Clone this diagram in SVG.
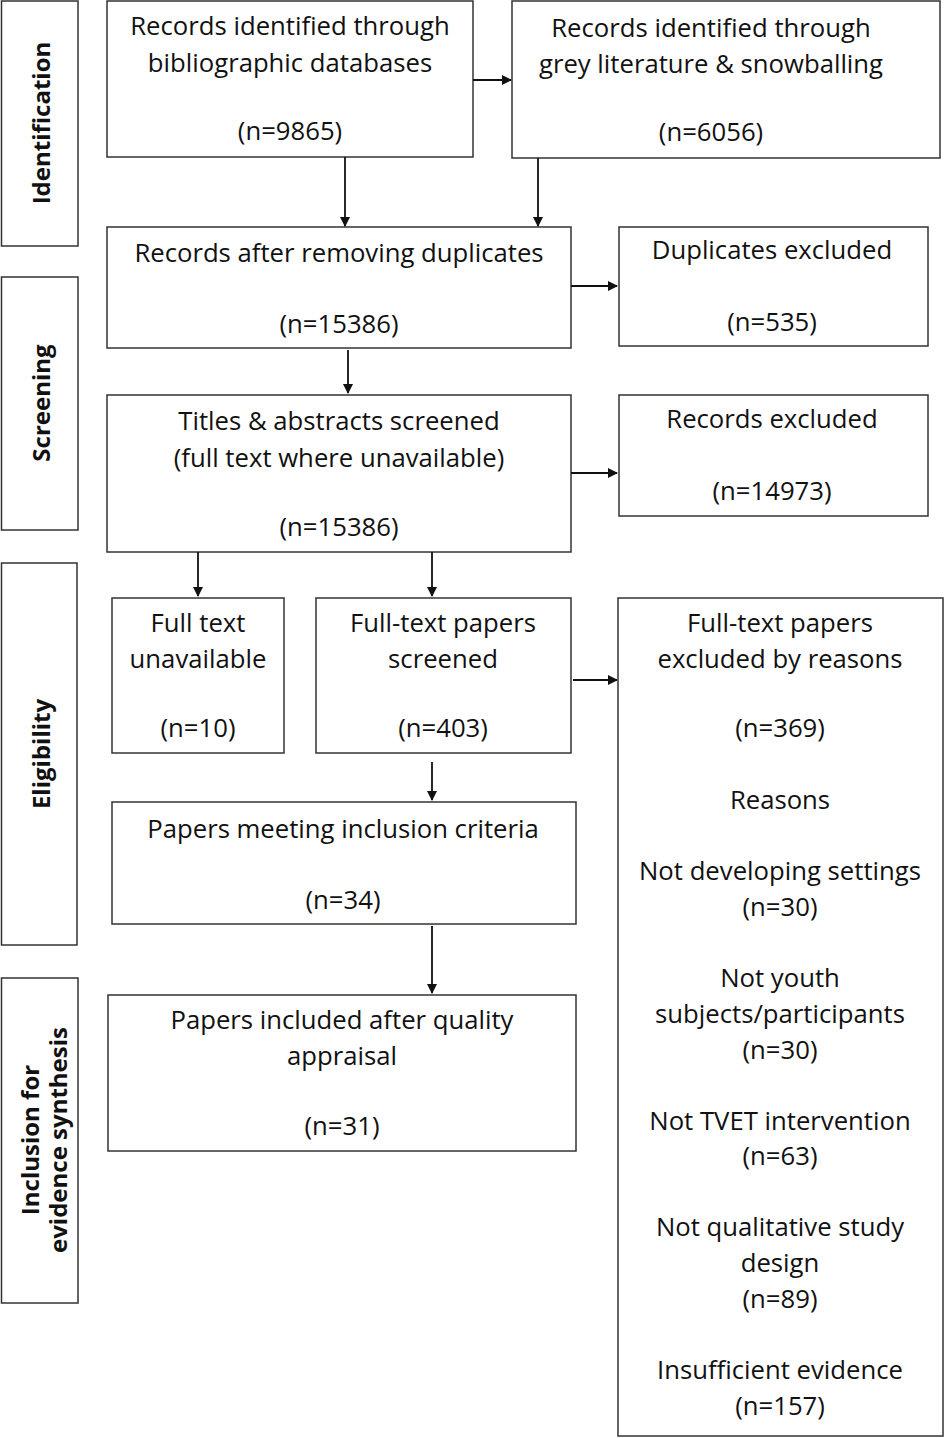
<svg xmlns="http://www.w3.org/2000/svg" width="944" height="1438" viewBox="0 0 944 1438">
<defs>
<marker id="ah" markerWidth="10" markerHeight="10" refX="9" refY="5" orient="auto" markerUnits="userSpaceOnUse">
<path d="M0,0 L10,5 L0,10 z" fill="#111"/>
</marker>
<style>
rect{fill:#fff;stroke:#333;stroke-width:1.5}
text{font-family:"Open Sans",Lato,sans-serif;font-size:25.7px;fill:#111;text-anchor:middle;dominant-baseline:central}
.lab{font-weight:bold;font-size:24px}
.c line{stroke:#111;stroke-width:1.8;marker-end:url(#ah)}
</style>
</defs>
<rect width="944" height="1438" style="stroke:none"/>
<g id="stage-identification"><rect x="1.5" y="1" width="76.5" height="245"/><text class="lab" transform="translate(40,123) rotate(-90)">Identification</text></g>
<g id="stage-screening"><rect x="1.5" y="277" width="76.5" height="253"/><text class="lab" transform="translate(40,403) rotate(-90)">Screening</text></g>
<g id="stage-eligibility"><rect x="1.5" y="563" width="75.5" height="382"/><text class="lab" transform="translate(40,754) rotate(-90)">Eligibility</text></g>
<g id="stage-inclusion"><rect x="1.5" y="978" width="76.5" height="325"/><text class="lab" transform="translate(43,1140) rotate(-90)"><tspan x="0" y="-14">Inclusion for</tspan><tspan x="0" y="14">evidence synthesis</tspan></text></g>

<g id="n1"><rect x="107" y="1" width="366" height="156"/><text x="290" y="25">Records identified through</text><text x="290" y="62">bibliographic databases</text><text x="290" y="130">(n=9865)</text></g>
<g id="n2"><rect x="512" y="1" width="428" height="157"/><text x="711" y="27">Records identified through</text><text x="711" y="63">grey literature &amp; snowballing</text><text x="711" y="131">(n=6056)</text></g>
<g id="n3"><rect x="107" y="227" width="464" height="121"/><text x="339" y="252">Records after removing duplicates</text><text x="339" y="323">(n=15386)</text></g>
<g id="n4"><rect x="619" y="227" width="309" height="119"/><text x="772" y="249">Duplicates excluded</text><text x="772" y="321">(n=535)</text></g>
<g id="n5"><rect x="107" y="395" width="464" height="157"/><text x="339" y="420">Titles &amp; abstracts screened</text><text x="339" y="457">(full text where unavailable)</text><text x="339" y="526">(n=15386)</text></g>
<g id="n6"><rect x="619" y="395" width="309" height="121"/><text x="772" y="418">Records excluded</text><text x="772" y="490">(n=14973)</text></g>
<g id="n7"><rect x="112" y="598" width="172" height="155"/><text x="198" y="622">Full text</text><text x="198" y="658">unavailable</text><text x="198" y="727">(n=10)</text></g>
<g id="n8"><rect x="316" y="598" width="255" height="155"/><text x="443" y="622">Full-text papers</text><text x="443" y="658">screened</text><text x="443" y="727">(n=403)</text></g>
<g id="n9"><rect x="618" y="598" width="325" height="838"/>
<text x="780" y="622">Full-text papers</text><text x="780" y="658">excluded by reasons</text><text x="780" y="727">(n=369)</text>
<text x="780" y="799">Reasons</text>
<text x="780" y="870">Not developing settings</text><text x="780" y="906">(n=30)</text>
<text x="780" y="977">Not youth</text><text x="780" y="1013">subjects/participants</text><text x="780" y="1049">(n=30)</text>
<text x="780" y="1120">Not TVET intervention</text><text x="780" y="1155">(n=63)</text>
<text x="780" y="1226">Not qualitative study</text><text x="780" y="1262">design</text><text x="780" y="1298">(n=89)</text>
<text x="780" y="1369">Insufficient evidence</text><text x="780" y="1405">(n=157)</text></g>
<g id="n10"><rect x="112" y="802" width="464" height="122"/><text x="343" y="828">Papers meeting inclusion criteria</text><text x="343" y="899">(n=34)</text></g>
<g id="n11"><rect x="108" y="995" width="468" height="156"/><text x="342" y="1019">Papers included after quality</text><text x="342" y="1055">appraisal</text><text x="342" y="1125">(n=31)</text></g>

<g id="connectors" class="c">
<line x1="473" y1="80" x2="511" y2="80"/>
<line x1="345" y1="157" x2="345" y2="226"/>
<line x1="538" y1="158" x2="538" y2="226"/>
<line x1="571" y1="286" x2="617" y2="286"/>
<line x1="348" y1="350" x2="348" y2="393"/>
<line x1="571" y1="473" x2="617" y2="473"/>
<line x1="198" y1="552" x2="198" y2="596"/>
<line x1="432" y1="552" x2="432" y2="596"/>
<line x1="573" y1="680" x2="617" y2="680"/>
<line x1="432" y1="762" x2="432" y2="800"/>
<line x1="432" y1="926" x2="432" y2="993"/>
</g>
</svg>
